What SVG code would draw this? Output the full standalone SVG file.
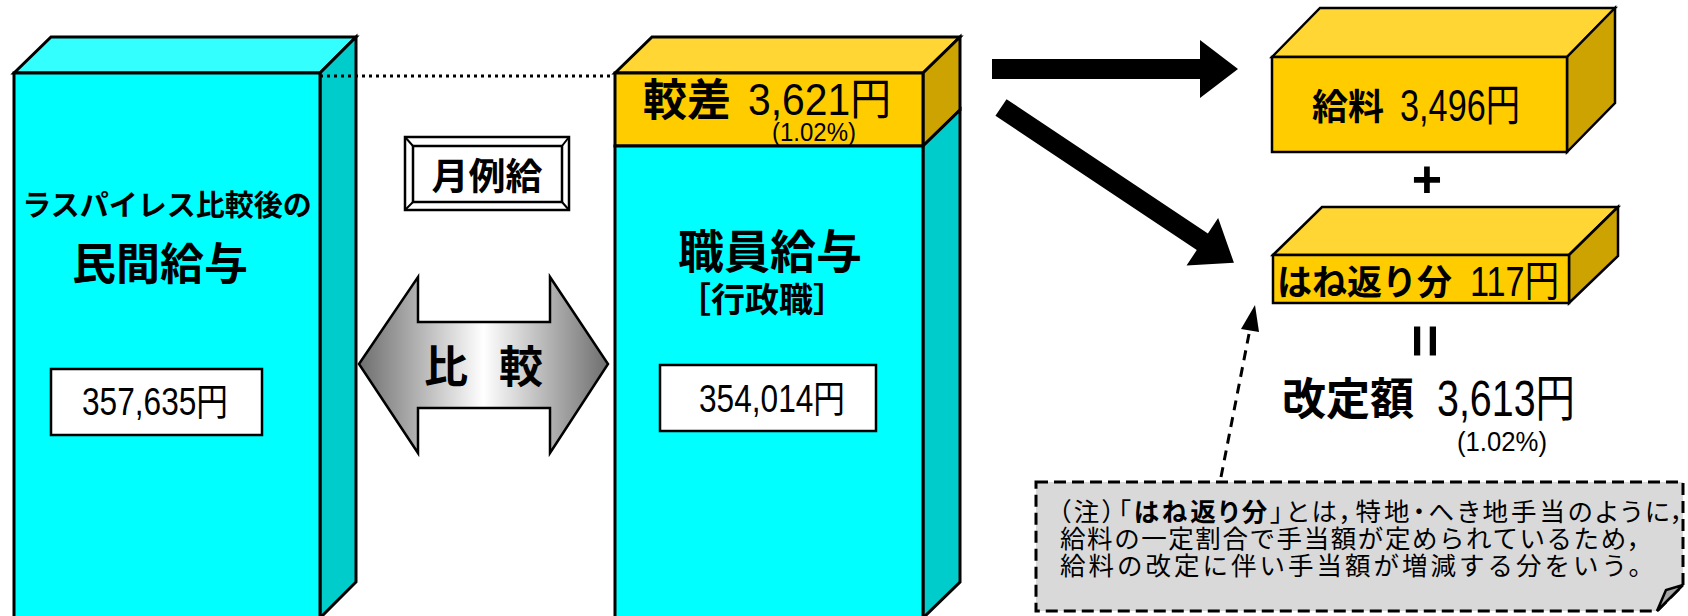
<svg xmlns="http://www.w3.org/2000/svg" width="1688" height="616" viewBox="0 0 1688 616">
<style>
.cj{font-family:"Noto Sans CJK JP","Noto Sans CJK SC",sans-serif;}
.b{font-weight:700;}
.num{font-family:"Liberation Sans","Noto Sans CJK JP",sans-serif;}
.edge{stroke:#000;stroke-width:3;stroke-linejoin:miter;}
.ye{stroke:#000;stroke-width:2.5;stroke-linejoin:miter;}
</style>
<defs>
<linearGradient id="gray" gradientUnits="userSpaceOnUse" x1="359" y1="0" x2="608" y2="0">
<stop offset="0" stop-color="#6e6e6e"/>
<stop offset="0.5" stop-color="#ffffff"/>
<stop offset="1" stop-color="#6e6e6e"/>
</linearGradient>
</defs>
<rect width="1688" height="616" fill="#fff"/>

<g id="node-private">
<polygon class="edge" points="14,73 51,37 356,37 320,73" fill="#33FFFF"/>
<polygon class="edge" points="320,73 356,37 356,582 320,618" fill="#00CCCC"/>
<rect class="edge" x="14" y="73" width="306" height="560" fill="#00FFFF"/>
<text class="cj b" x="167" y="216" font-size="29" text-anchor="middle">ラスパイレス比較後の</text>
<text class="cj b" x="160" y="280" font-size="44" text-anchor="middle">民間給与</text>
<rect x="51" y="369" width="211" height="66" fill="#fff" stroke="#000" stroke-width="2.5"/>
<text class="num" x="82" y="415" font-size="38" textLength="146" lengthAdjust="spacingAndGlyphs">357,635円</text>
</g>

<g id="node-staff">
<polygon class="edge" points="615,73 652,37 960,37 923,73" fill="#FFD633"/>
<polygon class="edge" points="923,73 960,37 960,110 923,146" fill="#CCA300"/>
<polygon class="edge" points="923,146 960,110 960,582 923,618" fill="#00CCCC"/>
<rect class="edge" x="615" y="73" width="308" height="73" fill="#FFCC00"/>
<rect class="edge" x="615" y="146" width="308" height="480" fill="#00FFFF"/>
<text class="cj b" x="643" y="116" font-size="44">較差</text>
<text class="num" x="748" y="115" font-size="44" textLength="143" lengthAdjust="spacingAndGlyphs">3,621円</text>
<text class="num" x="772" y="141" font-size="26" textLength="84" lengthAdjust="spacingAndGlyphs">(1.02%)</text>
<text class="cj b" x="770" y="268" font-size="46" text-anchor="middle">職員給与</text>
<text class="cj b" x="762" y="312" font-size="34" text-anchor="middle">［行政職］</text>
<rect x="660" y="365" width="216" height="66" fill="#fff" stroke="#000" stroke-width="2.5"/>
<text class="num" x="699" y="412" font-size="38" textLength="146" lengthAdjust="spacingAndGlyphs">354,014円</text>
</g>

<g id="node-monthly">
<rect x="405" y="137" width="164" height="73" fill="#fff" stroke="#000" stroke-width="2.5"/>
<rect x="413" y="146" width="149" height="56" fill="#fff" stroke="#000" stroke-width="2.5"/>
<path d="M405,137 L413,146 M569,137 L562,146 M405,210 L413,202 M569,210 L562,202" stroke="#000" stroke-width="2"/>
<text class="cj b" x="487" y="190" font-size="37" text-anchor="middle">月例給</text>
</g>

<g id="node-compare">
<polygon points="359,364 418,277 418,322 550,322 550,277 608,364 550,453 550,408 418,408 418,453" fill="url(#gray)" stroke="#000" stroke-width="2.5" stroke-linejoin="miter"/>
<text class="cj b" x="446" y="383" font-size="44" text-anchor="middle">比</text>
<text class="cj b" x="521" y="383" font-size="44" text-anchor="middle">較</text>
</g>

<g id="node-salary">
<polygon class="ye" points="1272,57 1320,8 1615,8 1567,57" fill="#FFD633"/>
<polygon class="ye" points="1567,57 1615,8 1615,103 1567,152" fill="#CCA300"/>
<rect class="ye" x="1272" y="57" width="295" height="95" fill="#FFCC00"/>
<text class="cj b" x="1312" y="120" font-size="36">給料</text>
<text class="num" x="1400" y="121" font-size="44" textLength="120" lengthAdjust="spacingAndGlyphs">3,496円</text>
</g>

<g id="node-plus">
<text x="1427" y="197" font-family="Liberation Sans, sans-serif" font-weight="700" font-size="52" text-anchor="middle">+</text>
</g>

<g id="node-rebound">
<polygon class="ye" points="1273,255 1322,207 1618,207 1569,255" fill="#FFD633"/>
<polygon class="ye" points="1569,255 1618,207 1618,256 1569,303" fill="#CCA300"/>
<rect class="ye" x="1273" y="255" width="296" height="48" fill="#FFCC00"/>
<text class="cj b" x="1277" y="295" font-size="35">はね返り分</text>
<text class="num" x="1470" y="296" font-size="42" textLength="89" lengthAdjust="spacingAndGlyphs">117円</text>
</g>

<g id="node-total">
<text transform="translate(1425,341) rotate(90)" x="0" y="19" font-family="Liberation Sans, sans-serif" font-weight="700" font-size="58" text-anchor="middle">=</text>
<text class="cj b" x="1282" y="415" font-size="44">改定額</text>
<text class="num" x="1437" y="416" font-size="50" textLength="138" lengthAdjust="spacingAndGlyphs">3,613円</text>
<text class="num" x="1457" y="451" font-size="28" textLength="90" lengthAdjust="spacingAndGlyphs">(1.02%)</text>
</g>

<g id="node-note">
<path d="M1036,482 H1683 V585 L1657,611 H1036 Z" fill="#D9D9D9" stroke="#000" stroke-width="3" stroke-dasharray="12 6"/>
<path d="M1683,585 L1666,590 L1657,611 Z" fill="#A6A6A6" stroke="#000" stroke-width="2.5"/>
<text class="cj" x="1058" y="521" font-size="25.5" style="font-feature-settings:'palt'" textLength="626" lengthAdjust="spacing">（注）「<tspan font-weight="700">はね返り分</tspan>」とは，特地・へき地手当のように，</text>
<text class="cj" x="1060" y="548" font-size="25.5" textLength="592" lengthAdjust="spacing">給料の一定割合で手当額が定められているため，</text>
<text class="cj" x="1060" y="575" font-size="25.5" textLength="594" lengthAdjust="spacing">給料の改定に伴い手当額が増減する分をいう。</text>
</g>

<g id="connectors">
<line x1="320" y1="76" x2="615" y2="76" stroke="#000" stroke-width="3" stroke-dasharray="3 4"/>
<polygon points="992,59 1200,59 1200,40 1238,69 1200,98 1200,79 992,79" fill="#000"/>
<polygon transform="translate(1001,107.5) rotate(33.7)" points="0,-10 242,-10 242,-28.5 280,0 242,28.5 242,10 0,10" fill="#000"/>
<line x1="1221" y1="477" x2="1249" y2="334" stroke="#000" stroke-width="3" stroke-dasharray="10 7"/>
<polygon points="1255,305 1259,332 1241,329" fill="#000"/>
</g>
</svg>
